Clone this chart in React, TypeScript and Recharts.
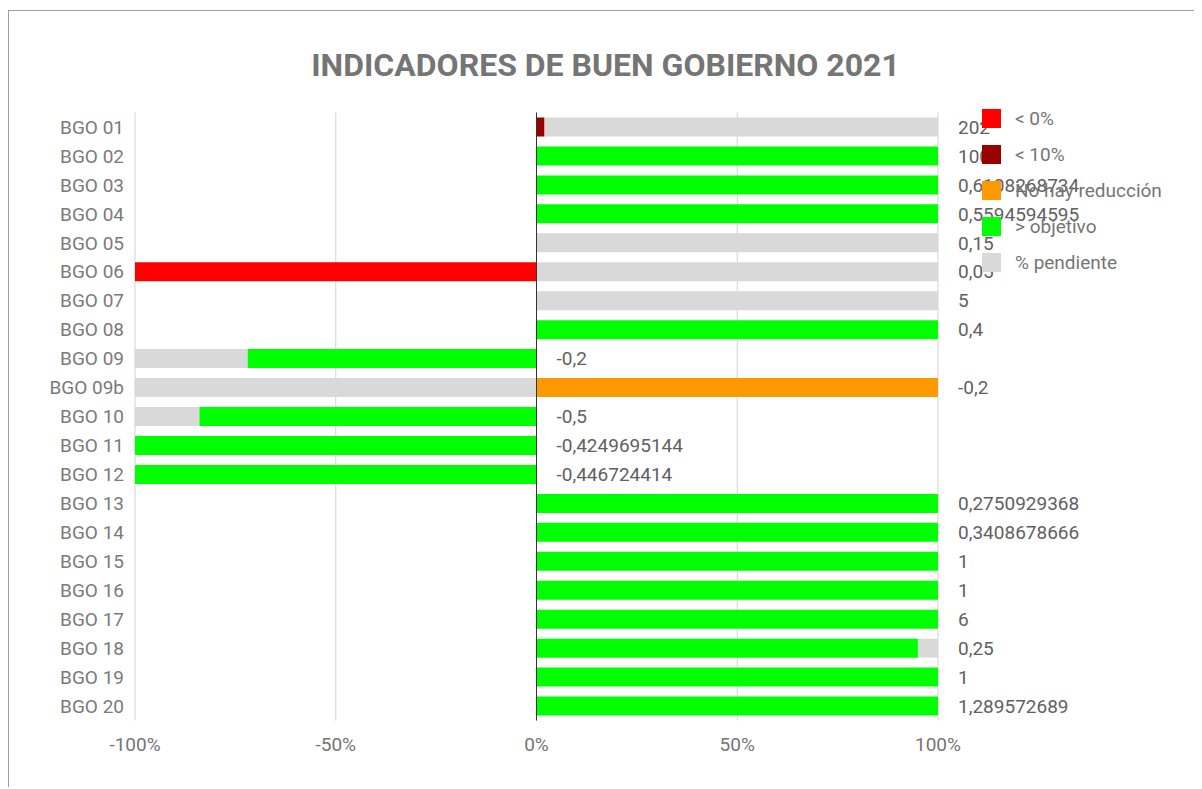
import { ComposedChart, Bar, Line, XAxis, YAxis, CartesianGrid, ReferenceLine, Legend, LabelList } from 'recharts'

const categories = [
  'BGO 01', 'BGO 02', 'BGO 03', 'BGO 04', 'BGO 05', 'BGO 06', 'BGO 07', 'BGO 08', 'BGO 09', 'BGO 09b',
  'BGO 10', 'BGO 11', 'BGO 12', 'BGO 13', 'BGO 14', 'BGO 15', 'BGO 16', 'BGO 17', 'BGO 18', 'BGO 19', 'BGO 20',
]

// % values per category, one array per colour
const belowZero = [0, 0, 0, 0, 0, -100, 0, 0, 0, 0, 0, 0, 0, 0, 0, 0, 0, 0, 0, 0, 0]
const belowTen = [2, 0, 0, 0, 0, 0, 0, 0, 0, 0, 0, 0, 0, 0, 0, 0, 0, 0, 0, 0, 0]
const noReduction = [0, 0, 0, 0, 0, 0, 0, 0, 0, 100, 0, 0, 0, 0, 0, 0, 0, 0, 0, 0, 0]
const aboveTarget = [0, 100, 100, 100, 0, 0, 0, 100, -72, 0, -84, -100, -100, 100, 100, 100, 100, 100, 95, 100, 100]
const pending = [98, 0, 0, 0, 100, 100, 100, 0, -28, -100, -16, 0, 0, 0, 0, 0, 0, 0, 5, 0, 0]

const valueLabels = [
  '202', '100', '0,6108268734', '0,5594594595', '0,15', '0,05', '5', '0,4', '-0,2', '-0,2',
  '-0,5', '-0,4249695144', '-0,446724414', '0,2750929368', '0,3408678666', '1', '1', '6', '0,25', '1', '1,289572689',
]

const seriesNames = ['< 0%', '< 10%', 'No hay reducción', '> objetivo', '% pendiente']

const xTicks = [-100, -50, 0, 50, 100]

const data = categories.map((name, i) => {
  const vals = [belowZero[i], belowTen[i], noReduction[i], aboveTarget[i], pending[i]]
  return {
    name,
    belowZero: belowZero[i],
    belowTen: belowTen[i],
    noReduction: noReduction[i],
    aboveTarget: aboveTarget[i],
    pending: pending[i],
    // label sits after the positive part of the stack
    end: vals.reduce((s, v) => s + Math.max(0, v), 0),
    label: valueLabels[i],
  }
})

function LegendList({ payload }: any) {
  const items = (payload || []).filter((p: any) => p.type !== 'none')
  return (
    <div>
      {items.map((p: any) => (
        <div key={p.value} style={{ display: 'flex', alignItems: 'center', height: 36 }}>
          <span style={{ width: 19, height: 19, background: p.color, marginRight: 14, display: 'inline-block' }} />
          <span style={{ color: '#757575', fontSize: 19 }}>{p.value}</span>
        </div>
      ))}
    </div>
  )
}

export default function App() {
  return (
    <div
      style={{
        position: 'relative',
        top: 2,
        width: 1193,
        height: 778,
        borderLeft: '1px solid #9e9e9e',
        borderTop: '1px solid #9e9e9e',
        fontFamily: 'Roboto, sans-serif',
        background: '#fff',
      }}
    >
      <div
        style={{
          position: 'absolute',
          top: 38,
          left: 0,
          width: 1193,
          textAlign: 'center',
          fontSize: 32,
          lineHeight: '32px',
          fontWeight: 700,
          color: '#757575',
        }}
      >
        INDICADORES DE BUEN GOBIERNO 2021
      </div>
      <ComposedChart
        width={1193}
        height={778}
        data={data}
        layout="vertical"
        stackOffset="sign"
        barSize={19}
        margin={{ top: 101.5, right: 264, left: 0, bottom: 38.5 }}
      >
        <CartesianGrid horizontal={false} stroke="#d3d3d3" />
        <XAxis
          type="number"
          domain={[-100, 100]}
          ticks={xTicks}
          tickFormatter={(v) => `${v}%`}
          axisLine={false}
          tickLine={false}
          tickMargin={11}
          tick={{ fill: '#757575', fontSize: 19 }}
        />
        <YAxis
          type="category"
          dataKey="name"
          width={126}
          axisLine={false}
          tickLine={false}
          tickMargin={5}
          interval={0}
          tick={{ fill: '#7a7a7a', fontSize: 19 }}
        />
        <Legend
          layout="vertical"
          align="center"
          verticalAlign="middle"
          itemSorter={(item: any) => seriesNames.indexOf(item.value)}
          content={<LegendList />}
          wrapperStyle={{ left: 973, top: 89, width: 'auto' }}
        />
        <Bar dataKey="belowZero" name="< 0%" stackId="a" fill="#ff0000" isAnimationActive={false} />
        <Bar dataKey="belowTen" name="< 10%" stackId="a" fill="#990000" isAnimationActive={false} />
        <Bar dataKey="noReduction" name="No hay reducción" stackId="a" fill="#ff9900" isAnimationActive={false} />
        <Bar dataKey="aboveTarget" name="> objetivo" stackId="a" fill="#00ff00" isAnimationActive={false} />
        <Bar dataKey="pending" name="% pendiente" stackId="a" fill="#d9d9d9" isAnimationActive={false} />
        <ReferenceLine x={0} stroke="#333" />
        <Line
          dataKey="end"
          stroke="none"
          dot={false}
          activeDot={false}
          legendType="none"
          isAnimationActive={false}
        >
          <LabelList dataKey="label" position="right" offset={20} fill="#616161" fontSize={19} />
        </Line>
      </ComposedChart>
    </div>
  )
}
